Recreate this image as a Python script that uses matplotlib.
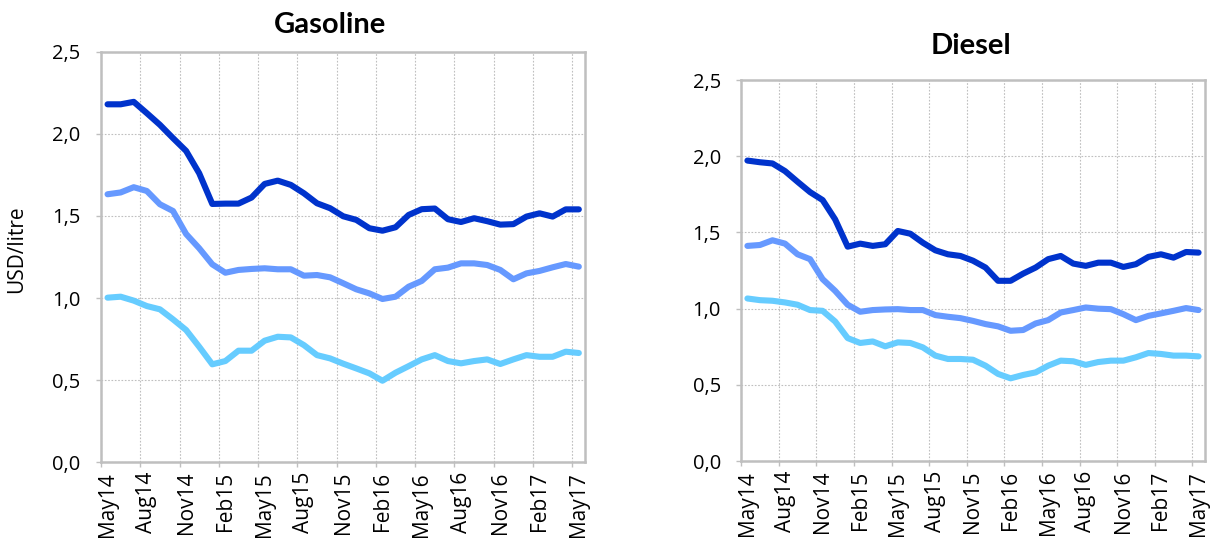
import matplotlib
matplotlib.use("Agg")
import matplotlib.pyplot as plt
from matplotlib.ticker import FuncFormatter, FixedLocator
import numpy as np

months = ["May14","Jun14","Jul14","Aug14","Sep14","Oct14","Nov14","Dec14","Jan15",
          "Feb15","Mar15","Apr15","May15","Jun15","Jul15","Aug15","Sep15","Oct15",
          "Nov15","Dec15","Jan16","Feb16","Mar16","Apr16","May16","Jun16","Jul16",
          "Aug16","Sep16","Oct16","Nov16","Dec16","Jan17","Feb17","Mar17","Apr17","May17"]

gas_dark = [2.18, 2.18, 2.195, 2.126, 2.055, 1.974, 1.896, 1.76, 1.573, 1.575, 1.575, 1.612,
            1.695, 1.715, 1.689, 1.638, 1.577, 1.547, 1.498, 1.476, 1.425, 1.41, 1.431, 1.506,
            1.541, 1.545, 1.48, 1.463, 1.486, 1.468, 1.447, 1.45, 1.496, 1.516, 1.496, 1.54, 1.54]
gas_mid = [1.632, 1.643, 1.675, 1.652, 1.571, 1.53, 1.39, 1.303, 1.205, 1.154, 1.171, 1.177,
           1.181, 1.175, 1.175, 1.136, 1.14, 1.126, 1.09, 1.053, 1.028, 0.994, 1.008, 1.069,
           1.104, 1.175, 1.185, 1.211, 1.211, 1.201, 1.171, 1.114, 1.15, 1.165, 1.187, 1.207, 1.191]
gas_light = [1.002, 1.008, 0.984, 0.951, 0.931, 0.87, 0.805, 0.703, 0.596, 0.616, 0.679, 0.679,
             0.74, 0.764, 0.76, 0.713, 0.652, 0.632, 0.60, 0.571, 0.541, 0.496, 0.545, 0.585,
             0.626, 0.652, 0.616, 0.602, 0.616, 0.626, 0.598, 0.626, 0.652, 0.642, 0.642, 0.673, 0.665]

die_dark = [1.972, 1.961, 1.953, 1.903, 1.833, 1.765, 1.713, 1.586, 1.407, 1.427, 1.412, 1.423,
            1.51, 1.492, 1.433, 1.383, 1.357, 1.346, 1.315, 1.27, 1.183, 1.183, 1.23, 1.27,
            1.325, 1.346, 1.296, 1.281, 1.302, 1.302, 1.274, 1.292, 1.34, 1.357, 1.335, 1.372, 1.368]
die_mid = [1.412, 1.418, 1.449, 1.427, 1.357, 1.325, 1.194, 1.117, 1.026, 0.98, 0.991, 0.995,
           0.997, 0.991, 0.991, 0.958, 0.947, 0.938, 0.92, 0.899, 0.884, 0.855, 0.86, 0.903,
           0.925, 0.975, 0.991, 1.008, 1.0, 0.997, 0.964, 0.925, 0.953, 0.969, 0.986, 1.004, 0.991]
die_light = [1.067, 1.056, 1.052, 1.041, 1.026, 0.991, 0.986, 0.916, 0.807, 0.775, 0.785, 0.753,
             0.779, 0.775, 0.746, 0.692, 0.67, 0.67, 0.665, 0.626, 0.572, 0.543, 0.565, 0.582,
             0.626, 0.659, 0.655, 0.631, 0.65, 0.659, 0.659, 0.681, 0.709, 0.703, 0.692, 0.692, 0.687]

colors = ["#0033CC", "#6699FF", "#66CCFF"]
yticks = [0.0, 0.5, 1.0, 1.5, 2.0, 2.5]

plt.rcParams['font.family'] = ['Open Sans', 'DejaVu Sans']

fig = plt.figure(figsize=(12.17, 5.45), dpi=100)
ax1 = fig.add_axes([0.083, 0.152, 0.398, 0.753])
ax2 = fig.add_axes([0.609, 0.154, 0.381, 0.699])

x = np.arange(len(months))
comma = FuncFormatter(lambda v, p: f"{v:.1f}".replace(".", ","))

def style(ax, title, series, title_pad, title_x):
    for s, c in zip(series, colors):
        ax.plot(x, s, color=c, lw=4.4, solid_capstyle='round', solid_joinstyle='round', zorder=3)
    ax.set_xlim(-0.5, len(months) - 0.5)
    ax.set_ylim(0, 2.5)
    ax.set_yticks(yticks)
    ax.yaxis.set_major_formatter(comma)
    ax.set_xticks(x[::3])
    ax.set_xticklabels(months[::3], rotation=90)
    bounds = list(np.arange(-0.5, len(months), 3))
    ax.xaxis.set_minor_locator(FixedLocator(bounds))
    ax.tick_params(axis='x', which='major', length=0, pad=7, labelsize=15, colors='#000000')
    ax.tick_params(axis='x', which='minor', length=3.6, width=1, color='#BFBFBF', direction='out')
    ax.tick_params(axis='y', length=3.6, width=1, color='#BFBFBF', labelsize=14.5, pad=11)
    ax.grid(True, which='minor', axis='x', color='#BFBFBF', ls=(0, (1.5, 1.5)), lw=0.8)
    ax.grid(True, which='major', axis='y', color='#BFBFBF', ls=(0, (1.5, 1.5)), lw=0.8)
    ax.grid(False, which='major', axis='x')
    for sp in ax.spines.values():
        sp.set_color('#BFBFBF')
        sp.set_linewidth(1.8)
    ax.set_title(title, fontsize=21, fontweight='bold', pad=title_pad, x=title_x,
                 family=['Lato', 'DejaVu Sans'])

style(ax1, "Gasoline", [gas_dark, gas_mid, gas_light], 13.5, 0.473)
style(ax2, "Diesel", [die_dark, die_mid, die_light], 18.5, 0.495)
ax1.set_ylabel("USD/litre", fontsize=15)
ax1.yaxis.set_label_coords(-0.152, 0.52)

fig.savefig("out.png", dpi=100)
